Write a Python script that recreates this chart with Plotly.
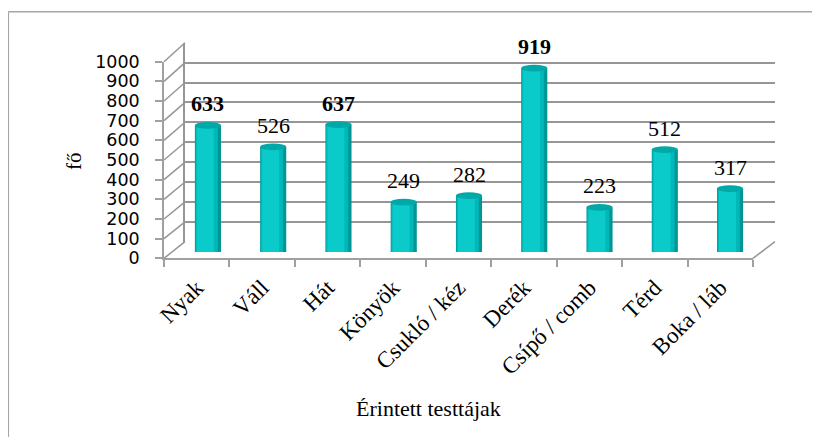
import plotly.graph_objects as go

# ---- data ----
categories = ["Nyak", "Váll", "Hát", "Könyök", "Csukló / kéz", "Derék",
              "Csípő / comb", "Térd", "Boka / láb"]
values = [633, 526, 637, 249, 282, 919, 223, 512, 317]
bold_label = [True, False, True, False, False, True, False, False, False]
y_ticks = list(range(0, 1001, 100))
y_title = "fő"
x_title = "Érintett testtájak"

# ---- geometry (screen pixels of the photographed page) ----
W, H = 820, 437
OFF = 8   # page body margin
YMAX = 1000
FRONT_X = (164, 753); FRONT_Y = (258.3, 61.7)   # pixel of 0 and YMAX
BACK_X = (185, 775);  BACK_Y = (241.7, 42.7)
BAR_X = (175.3, 762.7); BAR_Y = (252.0, 52.0)

def fx(p): return (p - OFF) / W
def fy(p): return (H - (p - OFF)) / H
def xdom(a): return [fx(a[0]), fx(a[1])]
def ydom(a): return [fy(a[0]), fy(a[1])]

GRID = "#969696"
LINE = "#a0a0a0"
SERIF = "Liberation Serif"

fig = go.Figure()

# back wall subplot (xy) – gridlines only
fig.add_trace(go.Scatter(x=[0, 1], y=[0, 0], mode="lines", line=dict(width=0),
                         hoverinfo="skip", showlegend=False, xaxis="x", yaxis="y"))
# front axis subplot (x2y2) – invisible points to carry categories
fig.add_trace(go.Scatter(x=categories, y=values, mode="markers",
                         marker=dict(size=1, opacity=0),
                         hoverinfo="skip", showlegend=False, xaxis="x2", yaxis="y2"))

# bars (x3y3) – cylinder shading with overlaid layers
layers = [(-0.20, 0.40, "#009696"),
          (-0.19, 0.34, "#00b8b8"),
          (-0.17, 0.26, "#0acaca")]
for off, wd, col in layers:
    fig.add_trace(go.Bar(x=categories, y=values, offset=off, width=wd,
                         marker=dict(color=col, line=dict(width=0)),
                         showlegend=False, xaxis="x3", yaxis="y3",
                         hovertemplate="%{x}: %{y}<extra></extra>"))

shapes = []
# top / bottom ellipses of the cylinders
for i, v in enumerate(values):
    shapes.append(dict(type="circle", xref="x3", yref="y3", x0=i - 0.2, x1=i + 0.2,
                       y0=v - 17, y1=v + 17, fillcolor="#00a8a8", line=dict(width=0),
                       layer="above"))
    shapes.append(dict(type="circle", xref="x3", yref="y3", x0=i - 0.2, x1=i + 0.2,
                       y0=-17, y1=17, fillcolor="#00b4b4", line=dict(width=0),
                       layer="below"))

# side wall diagonals
def front_px(v): return FRONT_Y[0] + (FRONT_Y[1] - FRONT_Y[0]) * v / YMAX
def back_px(v): return BACK_Y[0] + (BACK_Y[1] - BACK_Y[0]) * v / YMAX
for v in y_ticks:
    shapes.append(dict(type="line", xref="paper", yref="paper",
                       x0=fx(FRONT_X[0]), y0=fy(front_px(v)),
                       x1=fx(BACK_X[0]), y1=fy(back_px(v)),
                       line=dict(color=GRID, width=1.5), layer="below"))
# floor right edge
shapes.append(dict(type="line", xref="paper", yref="paper",
                   x0=fx(FRONT_X[1]), y0=fy(front_px(0)),
                   x1=fx(BACK_X[1]), y1=fy(back_px(0)),
                   line=dict(color=GRID, width=1.5), layer="below"))
# outer chart border
shapes.append(dict(type="line", xref="paper", yref="paper", x0=fx(8.3), y0=fy(11.7),
                   x1=1, y1=fy(11.7), line=dict(color="#a6a6a6", width=1.5)))
shapes.append(dict(type="line", xref="paper", yref="paper", x0=fx(8.3), y0=fy(11.7),
                   x1=fx(8.3), y1=0, line=dict(color="#a6a6a6", width=1.5)))

annotations = []
for c, v, b in zip(categories, values, bold_label):
    annotations.append(dict(x=c, y=v, xref="x3", yref="y3", text=f"<b>{v}</b>" if b else str(v),
                            showarrow=False, yanchor="bottom", yshift=7,
                            font=dict(family=SERIF, size=22, color="black")))
annotations.append(dict(x=fx(74), y=fy(161), xref="paper", yref="paper", text=y_title,
                        textangle=-90, showarrow=False, xanchor="center", yanchor="middle",
                        font=dict(family=SERIF, size=21, color="black")))
annotations.append(dict(x=fx(428), y=fy(408), xref="paper", yref="paper", text=x_title,
                        showarrow=False, xanchor="center", yanchor="middle",
                        font=dict(family=SERIF, size=22, color="black")))

fig.update_layout(
    width=W, height=H, margin=dict(l=0, r=0, t=0, b=0, pad=0, autoexpand=False),
    paper_bgcolor="white", plot_bgcolor="rgba(0,0,0,0)",
    barmode="overlay", showlegend=False,
    xaxis=dict(domain=xdom(BACK_X), range=[0, 1], anchor="y", showticklabels=False,
               showline=False, ticks="", showgrid=False, zeroline=False),
    yaxis=dict(domain=ydom(BACK_Y), range=[0, YMAX], anchor="x", tickmode="array",
               tickvals=y_ticks, showticklabels=False, showgrid=True, gridcolor=GRID,
               gridwidth=1.5, zeroline=False, showline=True, linecolor=GRID,
               linewidth=1.5, ticks=""),
    xaxis2=dict(domain=xdom(FRONT_X), anchor="y2", type="category",
                categoryarray=categories, categoryorder="array",
                range=[-0.5, len(categories) - 0.5],
                showline=True, linecolor=LINE, linewidth=1.5,
                ticks="outside", tickson="boundaries", ticklen=7, tickcolor=LINE,
                tickwidth=1.5, tickangle=-45, showgrid=False, ticklabelstandoff=5,
                tickfont=dict(family=SERIF, size=23, color="black")),
    yaxis2=dict(domain=ydom(FRONT_Y), range=[0, YMAX], anchor="x2", tickmode="array",
                tickvals=y_ticks,
                showline=True, linecolor=LINE, linewidth=1.5, ticks="outside",
                ticklen=7, tickcolor=LINE, tickwidth=1.5, showgrid=False, zeroline=False,
                ticklabelstandoff=12,
                tickfont=dict(family="DejaVu Sans", size=17.5, color="black")),
    xaxis3=dict(domain=xdom(BAR_X), anchor="y3", type="category",
                categoryarray=categories, categoryorder="array",
                range=[-0.5, len(categories) - 0.5], showticklabels=False,
                showline=False, ticks="", showgrid=False, zeroline=False),
    yaxis3=dict(domain=ydom(BAR_Y), range=[0, YMAX], anchor="x3", showticklabels=False,
                showline=False, ticks="", showgrid=False, zeroline=False),
    shapes=shapes, annotations=annotations,
)

fig.write_html("out.html")
